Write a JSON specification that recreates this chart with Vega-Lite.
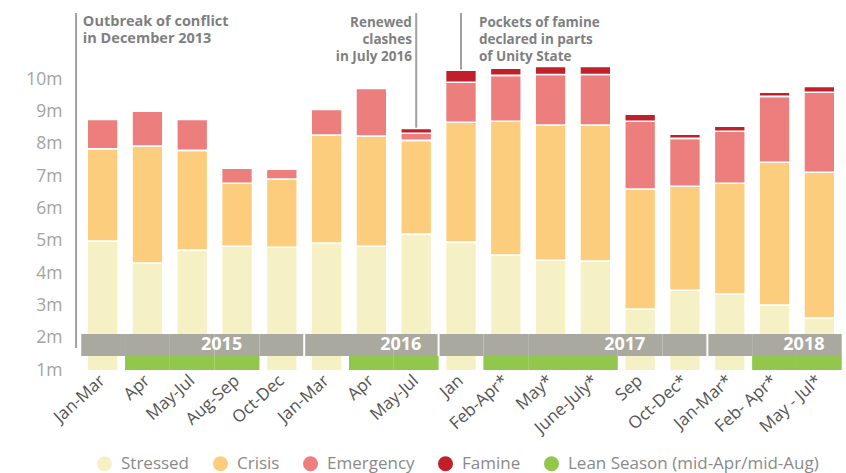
{
  "$schema": "https://vega.github.io/schema/vega-lite/v6.json",
  "width": 770,
  "height": 365,
  "padding": {"left": 5, "top": 5, "right": 0, "bottom": 2},
  "config": {"view": {"stroke": null}, "font": "Open Sans"},
  "datasets": {
    "bars": [
      {"period": "Jan-Mar|2015", "phase": "Stressed", "ipc": 2, "value": 4.99},
      {"period": "Jan-Mar|2015", "phase": "Crisis", "ipc": 3, "value": 2.86},
      {"period": "Jan-Mar|2015", "phase": "Emergency", "ipc": 4, "value": 0.91},
      {"period": "Apr|2015", "phase": "Stressed", "ipc": 2, "value": 4.31},
      {"period": "Apr|2015", "phase": "Crisis", "ipc": 3, "value": 3.62},
      {"period": "Apr|2015", "phase": "Emergency", "ipc": 4, "value": 1.08},
      {"period": "May-Jul|2015", "phase": "Stressed", "ipc": 2, "value": 4.71},
      {"period": "May-Jul|2015", "phase": "Crisis", "ipc": 3, "value": 3.09},
      {"period": "May-Jul|2015", "phase": "Emergency", "ipc": 4, "value": 0.96},
      {"period": "Aug-Sep|2015", "phase": "Stressed", "ipc": 2, "value": 4.83},
      {"period": "Aug-Sep|2015", "phase": "Crisis", "ipc": 3, "value": 1.95},
      {"period": "Aug-Sep|2015", "phase": "Emergency", "ipc": 4, "value": 0.47},
      {"period": "Oct-Dec|2015", "phase": "Stressed", "ipc": 2, "value": 4.8},
      {"period": "Oct-Dec|2015", "phase": "Crisis", "ipc": 3, "value": 2.11},
      {"period": "Oct-Dec|2015", "phase": "Emergency", "ipc": 4, "value": 0.31},
      {"period": "Jan-Mar|2016", "phase": "Stressed", "ipc": 2, "value": 4.93},
      {"period": "Jan-Mar|2016", "phase": "Crisis", "ipc": 3, "value": 3.34},
      {"period": "Jan-Mar|2016", "phase": "Emergency", "ipc": 4, "value": 0.8},
      {"period": "Apr|2016", "phase": "Stressed", "ipc": 2, "value": 4.83},
      {"period": "Apr|2016", "phase": "Crisis", "ipc": 3, "value": 3.41},
      {"period": "Apr|2016", "phase": "Emergency", "ipc": 4, "value": 1.48},
      {"period": "May-Jul|2016", "phase": "Stressed", "ipc": 2, "value": 5.21},
      {"period": "May-Jul|2016", "phase": "Crisis", "ipc": 3, "value": 2.9},
      {"period": "May-Jul|2016", "phase": "Emergency", "ipc": 4, "value": 0.22},
      {"period": "May-Jul|2016", "phase": "Famine", "ipc": 5, "value": 0.15},
      {"period": "Jan|2017", "phase": "Stressed", "ipc": 2, "value": 4.96},
      {"period": "Jan|2017", "phase": "Crisis", "ipc": 3, "value": 3.71},
      {"period": "Jan|2017", "phase": "Emergency", "ipc": 4, "value": 1.24},
      {"period": "Jan|2017", "phase": "Famine", "ipc": 5, "value": 0.37},
      {"period": "Feb-Apr*|2017", "phase": "Stressed", "ipc": 2, "value": 4.56},
      {"period": "Feb-Apr*|2017", "phase": "Crisis", "ipc": 3, "value": 4.14},
      {"period": "Feb-Apr*|2017", "phase": "Emergency", "ipc": 4, "value": 1.42},
      {"period": "Feb-Apr*|2017", "phase": "Famine", "ipc": 5, "value": 0.22},
      {"period": "May*|2017", "phase": "Stressed", "ipc": 2, "value": 4.4},
      {"period": "May*|2017", "phase": "Crisis", "ipc": 3, "value": 4.18},
      {"period": "May*|2017", "phase": "Emergency", "ipc": 4, "value": 1.57},
      {"period": "May*|2017", "phase": "Famine", "ipc": 5, "value": 0.25},
      {"period": "June-July*|2017", "phase": "Stressed", "ipc": 2, "value": 4.37},
      {"period": "June-July*|2017", "phase": "Crisis", "ipc": 3, "value": 4.21},
      {"period": "June-July*|2017", "phase": "Emergency", "ipc": 4, "value": 1.57},
      {"period": "June-July*|2017", "phase": "Famine", "ipc": 5, "value": 0.25},
      {"period": "Sep|2017", "phase": "Stressed", "ipc": 2, "value": 2.89},
      {"period": "Sep|2017", "phase": "Crisis", "ipc": 3, "value": 3.71},
      {"period": "Sep|2017", "phase": "Emergency", "ipc": 4, "value": 2.1},
      {"period": "Sep|2017", "phase": "Famine", "ipc": 5, "value": 0.22},
      {"period": "Oct-Dec*|2017", "phase": "Stressed", "ipc": 2, "value": 3.47},
      {"period": "Oct-Dec*|2017", "phase": "Crisis", "ipc": 3, "value": 3.22},
      {"period": "Oct-Dec*|2017", "phase": "Emergency", "ipc": 4, "value": 1.48},
      {"period": "Oct-Dec*|2017", "phase": "Famine", "ipc": 5, "value": 0.13},
      {"period": "Jan-Mar*|2018", "phase": "Stressed", "ipc": 2, "value": 3.35},
      {"period": "Jan-Mar*|2018", "phase": "Crisis", "ipc": 3, "value": 3.43},
      {"period": "Jan-Mar*|2018", "phase": "Emergency", "ipc": 4, "value": 1.61},
      {"period": "Jan-Mar*|2018", "phase": "Famine", "ipc": 5, "value": 0.16},
      {"period": "Feb- Apr*|2018", "phase": "Stressed", "ipc": 2, "value": 3.01},
      {"period": "Feb- Apr*|2018", "phase": "Crisis", "ipc": 3, "value": 4.42},
      {"period": "Feb- Apr*|2018", "phase": "Emergency", "ipc": 4, "value": 2.04},
      {"period": "Feb- Apr*|2018", "phase": "Famine", "ipc": 5, "value": 0.13},
      {"period": "May - Jul*|2018", "phase": "Stressed", "ipc": 2, "value": 2.61},
      {"period": "May - Jul*|2018", "phase": "Crisis", "ipc": 3, "value": 4.51},
      {"period": "May - Jul*|2018", "phase": "Emergency", "ipc": 4, "value": 2.48},
      {"period": "May - Jul*|2018", "phase": "Famine", "ipc": 5, "value": 0.18}
    ],
    "years": [
      {"year": "2015", "start": "Jan-Mar|2015", "labelAt": "Aug-Sep|2015"},
      {"year": "2016", "start": "Jan-Mar|2016", "labelAt": "May-Jul|2016"},
      {"year": "2017", "start": "Jan|2017", "labelAt": "Sep|2017"},
      {"year": "2018", "start": "Jan-Mar*|2018", "labelAt": "May - Jul*|2018"}
    ],
    "lean": [
      {"period": "Apr|2015", "phase": "Lean Season (mid-Apr/mid-Aug)"},
      {"period": "May-Jul|2015", "phase": "Lean Season (mid-Apr/mid-Aug)"},
      {"period": "Aug-Sep|2015", "phase": "Lean Season (mid-Apr/mid-Aug)"},
      {"period": "Apr|2016", "phase": "Lean Season (mid-Apr/mid-Aug)"},
      {"period": "May-Jul|2016", "phase": "Lean Season (mid-Apr/mid-Aug)"},
      {"period": "Feb-Apr*|2017", "phase": "Lean Season (mid-Apr/mid-Aug)"},
      {"period": "May*|2017", "phase": "Lean Season (mid-Apr/mid-Aug)"},
      {"period": "June-July*|2017", "phase": "Lean Season (mid-Apr/mid-Aug)"},
      {"period": "Feb- Apr*|2018", "phase": "Lean Season (mid-Apr/mid-Aug)"},
      {"period": "May - Jul*|2018", "phase": "Lean Season (mid-Apr/mid-Aug)"}
    ],
    "notes": [
      {"id": "outbreak", "period": "Jan-Mar|2015", "text": "Outbreak of conflict\nin December 2013", "from": 1.68},
      {"id": "clashes", "period": "May-Jul|2016", "text": "Renewed\nclashes\nin July 2016", "from": 8.5},
      {"id": "famine", "period": "Jan|2017", "text": "Pockets of famine\ndeclared in parts\nof Unity State", "from": 10.3}
    ]
  },
  "layer": [
    {
      "data": {"name": "bars"},
      "mark": {"type": "bar", "clip": true, "stroke": "white", "strokeWidth": 1.6},
      "encoding": {
        "x": {
          "field": "period",
          "type": "nominal",
          "scale": {
            "domain": ["Jan-Mar|2015", "Apr|2015", "May-Jul|2015", "Aug-Sep|2015", "Oct-Dec|2015", "Jan-Mar|2016", "Apr|2016", "May-Jul|2016", "Jan|2017", "Feb-Apr*|2017", "May*|2017", "June-July*|2017", "Sep|2017", "Oct-Dec*|2017", "Jan-Mar*|2018", "Feb- Apr*|2018", "May - Jul*|2018"],
            "paddingInner": 0.31,
            "paddingOuter": 0.25
          },
          "axis": {
            "title": null,
            "ticks": false,
            "domain": false,
            "labelExpr": "split(datum.label, '|')[0]",
            "labelAngle": -42,
            "labelAlign": "right",
            "labelBaseline": "middle",
            "labelFontSize": 17,
            "labelColor": "#555555",
            "labelPadding": 8,
            "labelOverlap": false
          }
        },
        "y": {
          "field": "value",
          "type": "quantitative",
          "stack": "zero",
          "scale": {"domain": [1, 12.3], "nice": false, "zero": false},
          "axis": {
            "title": null,
            "values": [1, 2, 3, 4, 5, 6, 7, 8, 9, 10],
            "labelExpr": "datum.value + 'm'",
            "grid": false,
            "ticks": false,
            "tickSize": 0,
            "domain": false,
            "labelFontSize": 17.5,
            "labelColor": "#a3a3a3",
            "labelPadding": 14,
            "minExtent": 71,
            "maxExtent": 71
          }
        },
        "color": {
          "field": "phase",
          "type": "nominal",
          "scale": {
            "domain": ["Stressed", "Crisis", "Emergency", "Famine", "Lean Season (mid-Apr/mid-Aug)"],
            "range": ["#f5f1c5", "#fdcd7e", "#ec7f7e", "#c1202b", "#92c74d"]
          },
          "legend": {
            "title": null,
            "orient": "none",
            "direction": "horizontal",
            "legendX": 20,
            "legendY": 450,
            "symbolType": "circle",
            "symbolSize": 225,
            "symbolStrokeWidth": 0,
            "labelFontSize": 17,
            "labelColor": "#8a8a8a",
            "labelOffset": 8,
            "columnPadding": 22,
            "labelLimit": 400
          }
        },
        "order": {"field": "ipc", "type": "quantitative", "sort": "ascending"}
      }
    },
    {
      "data": {"name": "bars"},
      "transform": [{"filter": "datum.phase === 'Stressed'"}],
      "mark": {"type": "bar", "color": "#aaa9a0", "width": {"band": 1.45}},
      "encoding": {
        "x": {"field": "period", "type": "nominal"},
        "y": {"datum": 1.433, "type": "quantitative"},
        "y2": {"datum": 2.114}
      }
    },
    {
      "data": {"name": "lean"},
      "mark": {"type": "bar", "width": {"band": 1.45}},
      "encoding": {
        "x": {"field": "period", "type": "nominal"},
        "y": {"datum": 1, "type": "quantitative"},
        "y2": {"datum": 1.433},
        "color": {
          "field": "phase",
          "type": "nominal",
          "legend": {
            "title": null,
            "orient": "none",
            "direction": "horizontal",
            "legendX": 20,
            "legendY": 450,
            "symbolType": "circle",
            "symbolSize": 225,
            "symbolStrokeWidth": 0,
            "labelFontSize": 17,
            "labelColor": "#8a8a8a",
            "labelOffset": 8,
            "columnPadding": 22,
            "labelLimit": 400
          }
        }
      }
    },
    {
      "data": {"name": "years"},
      "mark": {"type": "rule", "color": "white", "strokeWidth": 2},
      "encoding": {
        "x": {"field": "start", "type": "nominal", "bandPosition": -0.225},
        "y": {"datum": 1.433, "type": "quantitative"},
        "y2": {"datum": 2.114}
      }
    },
    {
      "data": {"name": "years"},
      "mark": {"type": "text", "color": "white", "fontWeight": "bold", "fontSize": 18, "align": "center", "baseline": "middle"},
      "encoding": {
        "x": {"field": "labelAt", "type": "nominal", "bandPosition": 0},
        "y": {"datum": 1.78, "type": "quantitative"},
        "text": {"field": "year"}
      }
    },
    {
      "data": {"name": "notes"},
      "transform": [{"filter": "datum.id === 'outbreak'"}],
      "mark": {"type": "rule", "color": "#a0a0a0", "strokeWidth": 2},
      "encoding": {
        "x": {"field": "period", "type": "nominal", "bandPosition": -0.36},
        "y": {"field": "from", "type": "quantitative"},
        "y2": {"datum": 12.05}
      }
    },
    {
      "data": {"name": "notes"},
      "transform": [{"filter": "datum.id !== 'outbreak'"}],
      "mark": {"type": "rule", "color": "#a0a0a0", "strokeWidth": 2},
      "encoding": {
        "x": {"field": "period", "type": "nominal", "bandPosition": 0.5},
        "y": {"field": "from", "type": "quantitative"},
        "y2": {"datum": 12.05}
      }
    },
    {
      "data": {"name": "notes"},
      "transform": [{"filter": "datum.id === 'outbreak'"}],
      "mark": {"type": "text", "color": "#7f7f7f", "fontWeight": "bold", "fontSize": 14.5, "align": "left", "baseline": "alphabetic", "lineBreak": "\n", "lineHeight": 17.5},
      "encoding": {
        "x": {"field": "period", "type": "nominal", "bandPosition": -0.14},
        "y": {"datum": 11.65, "type": "quantitative"},
        "text": {"field": "text"}
      }
    },
    {
      "data": {"name": "notes"},
      "transform": [{"filter": "datum.id === 'clashes'"}],
      "mark": {"type": "text", "color": "#7f7f7f", "fontWeight": "bold", "fontSize": 13.5, "align": "right", "baseline": "alphabetic", "lineBreak": "\n", "lineHeight": 17},
      "encoding": {
        "x": {"field": "period", "type": "nominal", "bandPosition": 0.36},
        "y": {"datum": 11.62, "type": "quantitative"},
        "text": {"field": "text"}
      }
    },
    {
      "data": {"name": "notes"},
      "transform": [{"filter": "datum.id === 'famine'"}],
      "mark": {"type": "text", "color": "#7f7f7f", "fontWeight": "bold", "fontSize": 13.5, "align": "left", "baseline": "alphabetic", "lineBreak": "\n", "lineHeight": 17},
      "encoding": {
        "x": {"field": "period", "type": "nominal", "bandPosition": 1.08},
        "y": {"datum": 11.62, "type": "quantitative"},
        "text": {"field": "text"}
      }
    }
  ]
}
